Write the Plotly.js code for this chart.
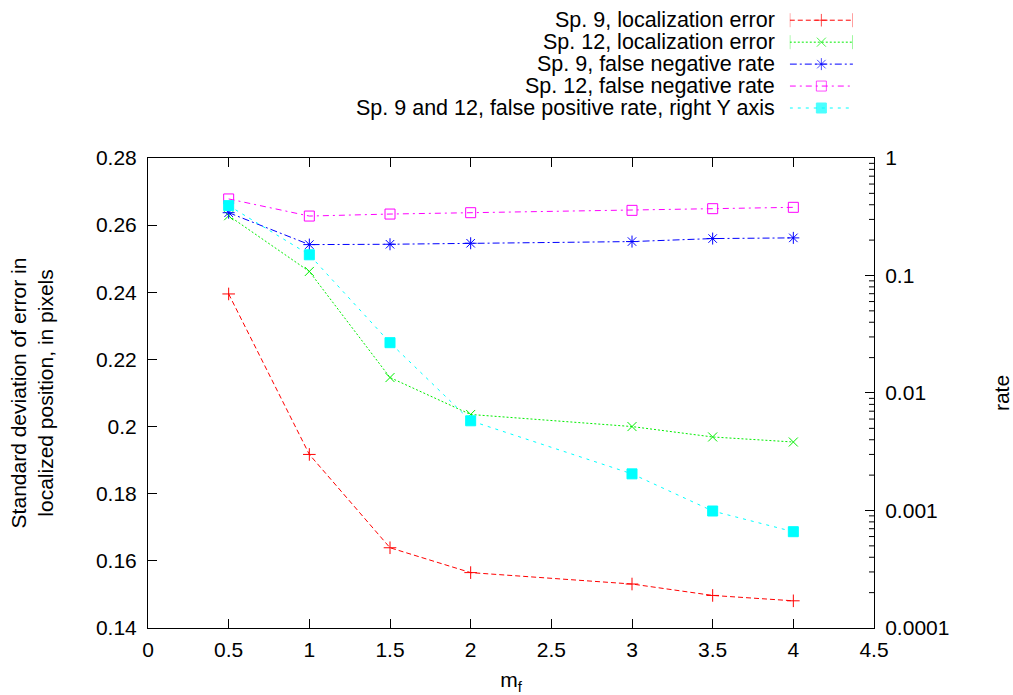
<!DOCTYPE html>
<html>
<head>
<meta charset="utf-8">
<script src="https://cdn.plot.ly/plotly-3.0.1.min.js"></script>
<style>html,body{margin:0;padding:0;background:#fff;}#chart{width:1013px;height:695px;}</style>
</head>
<body>
<div id="chart"></div>
<script>
// ---- data ----
const mf = [0.5, 1, 1.5, 2, 3, 3.5, 4];
const sp9LocErr  = [0.2395, 0.1917, 0.1639, 0.1565, 0.1531, 0.1497, 0.1481];
const sp12LocErr = [0.2628, 0.2462, 0.2146, 0.2036, 0.2000, 0.1969, 0.1954];
const sp9FNR     = [0.2637, 0.2542, 0.2543, 0.2546, 0.2551, 0.2560, 0.2562];
const sp12FNR    = [0.2678, 0.2627, 0.2633, 0.2637, 0.2644, 0.2649, 0.2653];
const fpr        = [0.393, 0.150, 0.0268, 0.0058, 0.00205, 0.00099, 0.00066];
const seriesNames = [
  "Sp. 9, localization error",
  "Sp. 12, localization error",
  "Sp. 9, false negative rate",
  "Sp. 12, false negative rate",
  "Sp. 9 and 12, false positive rate, right Y axis"
];
const xRange = [0, 4.5];
const xTicks = [0, 0.5, 1, 1.5, 2, 2.5, 3, 3.5, 4, 4.5];
const rateTickVals = [0.0001, 0.001, 0.01, 0.1, 1];
const rateTickText = ["0.0001", "0.001", "0.01", "0.1", "1"];
const minorDigits = [2, 3, 4, 5, 6, 7, 8, 9];

// minor tick positions of the log axis (2..9 in every decade)
const rateMinorVals = [];
rateTickVals.slice(0, -1).forEach(d => minorDigits.forEach(m => rateMinorVals.push(d * m)));

// ---- styles ----
const FONT = "Liberation Sans, Arial, Helvetica, sans-serif";
const FS = 21;
const styles = [
  {color: "#ff0000", dash: "5px,3px",          symbol: "cross-thin-open", size: 9,  caps: true,  axis: "y"},
  {color: "#00ee00", dash: "2px,2px",          symbol: "x-thin-open",     size: 9,  caps: true,  axis: "y"},
  {color: "#0000ff", dash: "7px,3px,2px,3px",  symbol: "asterisk-open",   size: 10, caps: false, axis: "y"},
  {color: "#ff00ff", dash: "6px,4px,2px,4px",  symbol: "square-open",     size: 10, caps: false, axis: "y"},
  {color: "#00ffff", dash: "3px,5px",          symbol: "square",          size: 10, caps: false, axis: "y2"}
];
const seriesY = [sp9LocErr, sp12LocErr, sp9FNR, sp12FNR, fpr];

const traces = [];
// minor ticks of the right log axis: inward strokes drawn as one-sided horizontal error bars at the right edge
const minorLen = (xRange[1] - xRange[0]) * 5 / 726;
traces.push({
  x: rateMinorVals.map(() => xRange[1]), y: rateMinorVals, xaxis: "x", yaxis: "y2",
  type: "scatter", mode: "markers", showlegend: false, hoverinfo: "skip", cliponaxis: false,
  marker: {size: 1, opacity: 0, color: "#000"},
  error_x: {type: "constant", symmetric: false, value: 0, valueminus: minorLen, width: 0, thickness: 1, color: "#000"}
});
seriesY.forEach((ys, i) => {
  const s = styles[i];
  traces.push({
    x: mf, y: ys, type: "scatter", mode: "lines+markers", name: seriesNames[i],
    xaxis: "x", yaxis: s.axis, showlegend: false,
    line: {color: s.color, width: 1, dash: s.dash},
    marker: {symbol: s.symbol, size: s.size, color: s.color, line: {color: s.color, width: 1}}
  });
});

// ---- custom key (text left, sample right, like gnuplot) ----
const annotations = [];
seriesNames.forEach((name, i) => {
  const s = styles[i];
  const row = i + 1;
  traces.push({
    x: [0, 1], y: [row, row], xaxis: "x3", yaxis: "y3", type: "scatter", mode: "lines",
    showlegend: false, hoverinfo: "skip",
    line: {color: s.color, width: 1, dash: s.dash}
  });
  traces.push({
    x: [0, 0.5, 1], y: [row, row, row], xaxis: "x3", yaxis: "y3", type: "scatter", mode: "markers",
    showlegend: false, hoverinfo: "skip",
    marker: {
      symbol: [s.caps ? "line-ns-open" : "circle", s.symbol, s.caps ? "line-ns-open" : "circle"],
      size: [s.caps ? 10 : 0, s.size, s.caps ? 10 : 0],
      color: s.color, line: {color: s.color, width: 1}
    }
  });
  annotations.push({
    xref: "paper", yref: "y3", x: 0.867, y: row, xanchor: "right", yanchor: "middle",
    text: name, showarrow: false, font: {family: FONT, size: 21.5, color: "#000"}
  });
});

const mainTop = 0.7581;
const layout = {
  width: 1013, height: 695,
  margin: {l: 148, r: 139, t: 8, b: 67},
  paper_bgcolor: "#fff", plot_bgcolor: "#fff",
  font: {family: FONT, size: FS, color: "#000"},
  showlegend: false,
  xaxis: {
    domain: [0, 1], anchor: "y", range: xRange, tickvals: xTicks,
    ticks: "inside", ticklen: 9, tickwidth: 1, tickcolor: "#000",
    showline: true, linecolor: "#000", linewidth: 1, mirror: "ticks",
    showgrid: false, zeroline: false, ticklabelstandoff: 3,
    title: {text: "m<sub>f</sub>", font: {family: FONT, size: FS}, standoff: 12}
  },
  yaxis: {
    domain: [0, mainTop], anchor: "x", range: [0.14, 0.28], dtick: 0.02, tick0: 0.14,
    ticks: "inside", ticklen: 9, tickwidth: 1, tickcolor: "#000",
    showline: true, linecolor: "#000", linewidth: 1,
    showgrid: false, zeroline: false, ticklabelstandoff: 6,
    title: {text: "Standard deviation of error in<br>localized position, in pixels", font: {family: FONT, size: FS}, standoff: 36}
  },
  yaxis2: {
    overlaying: "y", side: "right", anchor: "x", type: "log", range: [-4, 0],
    tickmode: "array", tickvals: rateTickVals, ticktext: rateTickText,
    ticks: "inside", ticklen: 9, tickwidth: 1, tickcolor: "#000",
    showline: true, linecolor: "#000", linewidth: 1,
    showgrid: false, zeroline: false, ticklabelstandoff: 6,
    title: {text: "rate", font: {family: FONT, size: FS}, standoff: 48}
  },
  xaxis3: {domain: [0.884, 0.971], anchor: "y3", range: [0, 1], visible: false, fixedrange: true},
  yaxis3: {domain: [0.821, 0.998], anchor: "x3", range: [5.5, 0.5], visible: false, fixedrange: true},
  annotations: annotations
};

Plotly.newPlot("chart", traces, layout, {displayModeBar: false, staticPlot: true});
</script>
</body>
</html>
